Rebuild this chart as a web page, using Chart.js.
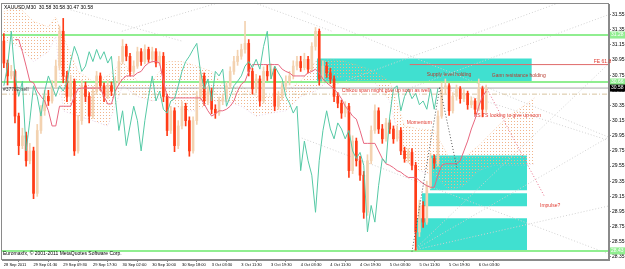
<!DOCTYPE html>
<html>
<head>
<meta charset="utf-8">
<script src="https://cdn.jsdelivr.net/npm/chart.js@4"></script>
<style>
  html, body { margin: 0; padding: 0; background: #fff; }
</style>
</head>
<body>
<canvas id="c" width="625" height="269"></canvas>
<script>
// XAUUSD M30 - ichimoku view, one candle per hour
const timeLabels = ["28 Sep 2011", "29 Sep 01:30", "29 Sep 09:30", "29 Sep 17:30", "30 Sep 02:00", "30 Sep 10:00",
  "30 Sep 18:00", "3 Oct 03:30", "3 Oct 11:30", "3 Oct 19:30", "4 Oct 03:30", "4 Oct 11:30", "4 Oct 19:30",
  "5 Oct 03:30", "5 Oct 11:30", "5 Oct 19:30", "6 Oct 03:30"];
const labelHours = [0, 8, 16, 24, 32, 40, 48, 56, 64, 72, 80, 88, 96, 104, 112, 120, 128];
const priceTicks = [28.35, 28.55, 28.75, 28.95, 29.15, 29.35, 29.55, 29.75, 29.95, 30.15, 30.35, 30.55,
  30.75, 30.95, 31.15, 31.35, 31.55];

const opens = [31.20,30.91,30.74,30.80,30.21,29.82,29.95,29.62,29.75,29.19, 30.02,30.28,30.47,30.41,30.61,30.87,31.33,30.74,30.47,30.67,
  29.75,30.15,30.61,30.47,30.21,30.54,30.74,30.61,30.47,30.61, 30.54,30.65,30.93,31.13,31.00,30.80,30.87,31.06,30.93,31.09,
  30.96,31.06,30.91,31.00,30.47,30.02,30.28,29.82,30.08,30.34, 30.15,29.75,30.15,30.47,30.74,30.41,30.54,30.30,30.25,30.41,
  30.44,30.61,30.80,30.93,31.00,31.09,31.17,30.80,30.57,30.70, 30.41,30.80,30.74,30.83,30.34,30.47,30.61,30.67,30.74,30.87,
  30.93,30.85,30.96,30.83,31.13,31.33,30.70,30.87,30.78,30.70, 30.47,30.38,30.25,30.34,29.49,29.88,29.62,29.43,28.94,29.62,
  30.02,30.28,30.04,29.91,30.12,30.04,29.91,30.02,29.75,29.65, 29.73,29.56,28.68,29.03,28.81,29.29,29.65,29.59,30.21,30.57,
  30.61,30.28,30.47,30.57,30.44,30.51,30.36,30.41,30.30,30.57, 30.30];
const highs = [31.30,30.95,30.88,30.82,30.25,30.05,30.00,29.85,29.80,30.10, 30.35,30.55,30.55,30.68,30.95,31.40,31.50,30.80,30.75,30.70,
  30.22,30.68,30.66,30.52,30.60,30.80,30.78,30.65,30.68,30.66, 30.72,31.00,31.22,31.16,31.04,30.94,31.12,31.10,31.15,31.12,
  31.12,31.10,31.06,31.05,30.50,30.34,30.32,30.15,30.40,30.38, 30.20,30.20,30.54,30.80,30.78,30.60,30.58,30.36,30.46,30.50,
  30.66,30.86,31.00,31.08,31.16,31.46,31.22,30.84,30.76,30.74, 30.86,30.88,30.90,30.86,30.54,30.66,30.74,30.80,30.94,31.00,
  31.00,31.04,31.00,31.18,31.38,31.36,30.94,30.92,30.84,30.74, 30.52,30.42,30.40,30.38,29.95,29.92,29.68,29.48,29.70,30.08,
  30.36,30.32,30.10,30.18,30.16,30.08,30.08,30.06,29.80,29.78, 29.78,29.60,29.10,29.08,29.35,29.72,29.70,30.28,30.65,30.70,
  30.64,30.52,30.62,30.60,30.56,30.54,30.46,30.44,30.70,30.60, 30.62];
const lows = [30.85,30.62,30.70,30.12,29.70,29.78,29.55,29.58,29.12,29.15, 29.98,30.22,30.35,30.38,30.58,30.82,30.65,30.40,30.42,29.69,
  29.72,30.10,30.40,30.12,30.18,30.50,30.55,30.40,30.44,30.48, 30.50,30.62,30.90,30.94,30.74,30.76,30.84,30.88,30.90,30.92,
  30.92,30.86,30.88,30.40,29.95,29.98,29.74,29.78,30.04,30.08, 29.68,29.72,30.10,30.42,30.35,30.36,30.24,30.18,30.22,30.36,
  30.40,30.58,30.76,30.88,30.96,31.04,30.74,30.50,30.52,30.34, 30.38,30.68,30.70,30.28,30.30,30.42,30.56,30.62,30.70,30.82,
  30.80,30.82,30.78,30.80,31.08,30.62,30.66,30.72,30.64,30.40, 30.32,30.18,30.20,29.40,29.45,29.55,29.36,28.86,28.90,29.58,
  29.98,29.98,29.85,29.88,29.98,29.85,29.88,29.70,29.60,29.60, 29.50,28.44,28.62,28.74,28.78,29.25,29.52,29.55,30.18,30.50,
  30.22,30.25,30.42,30.38,30.40,30.30,30.32,30.24,30.28,30.20, 30.26];
const closes = [30.91,30.74,30.80,30.21,29.82,29.95,29.62,29.75,29.19,30.02, 30.28,30.47,30.41,30.61,30.87,31.33,30.74,30.47,30.67,29.75,
  30.15,30.61,30.47,30.21,30.54,30.74,30.61,30.47,30.61,30.54, 30.65,30.93,31.13,31.00,30.80,30.87,31.06,30.93,31.09,30.96,
  31.06,30.91,31.00,30.47,30.02,30.28,29.82,30.08,30.34,30.15, 29.75,30.15,30.47,30.74,30.41,30.54,30.30,30.25,30.41,30.44,
  30.61,30.80,30.93,31.00,31.09,31.17,30.80,30.57,30.70,30.41, 30.80,30.74,30.83,30.34,30.47,30.61,30.67,30.74,30.87,30.93,
  30.85,30.96,30.83,31.13,31.33,30.70,30.87,30.78,30.70,30.47, 30.38,30.25,30.34,29.49,29.88,29.62,29.43,28.94,29.62,30.02,
  30.28,30.04,29.91,30.12,30.04,29.91,30.02,29.75,29.65,29.73, 29.56,28.68,29.03,28.81,29.29,29.65,29.59,30.21,30.57,30.61,
  30.28,30.47,30.57,30.44,30.51,30.36,30.41,30.30,30.57,30.30, 30.58];

// chikou span (teal), starts at the left edge
const chikou = [30.61,30.87,31.33,30.74,30.47,30.67,29.75,30.15,30.61,30.47, 30.21,30.54,30.74,30.61,30.47,30.61,30.54,30.65,30.93,31.13,
  31.00,30.80,30.87,31.06,30.93,31.09,30.96,31.06,30.91,31.00, 30.47,30.02,30.28,29.82,30.08,30.34,30.15,29.75,30.15,30.47,
  30.74,30.41,30.54,30.30,30.25,30.41,30.44,30.61,30.80,30.93, 31.00,31.09,31.17,30.80,30.57,30.70,30.41,30.80,30.74,30.83,
  30.34,30.47,30.61,30.67,30.74,30.87,30.93,30.85,30.96,30.83, 31.13,31.33,30.70,30.87,30.78,30.70,30.47,30.38,30.25,30.34,
  29.49,29.88,29.62,29.43,28.94,29.62,30.02,30.28,30.04,29.91, 30.12,30.04,29.91,30.02,29.75,29.65,29.73,29.56,28.68,29.03,
  28.81,29.29,29.65,29.59,30.21,30.57,30.61,30.28,30.47,30.57, 30.44,30.51,30.36,30.41,30.30,30.57,30.30,30.58];

// kijun / tenkan (pink)
const kijun = [null,null,null,31.22,31.22,31.06,30.87,30.67,30.65,30.54, 30.47,30.41,30.28,30.08,30.08,30.34,30.34,30.34,30.34,30.47,
  30.57,30.58,30.58,30.58,30.58,30.58,30.58,30.47,30.37,30.37, 30.54,30.63,30.70,30.74,30.74,30.74,30.78,30.80,30.87,30.91,
  30.93,30.93,30.91,30.67,30.47,30.45,30.45,30.45,30.45,30.45, 30.45,30.45,30.45,30.45,30.37,30.28,30.21,30.24,30.28,30.28,
  30.30,30.34,30.41,30.54,30.63,30.67,30.80,30.89,30.89,30.89, 30.89,30.89,30.89,30.89,30.89,30.83,30.80,30.78,30.74,30.74,
  30.74,30.74,30.78,30.80,30.83,30.78,30.70,30.65,30.61,30.57, 30.51,30.44,30.34,30.28,30.21,30.17,30.02,29.85,29.85,29.85,
  29.85,29.75,29.65,29.58,29.56,29.53,29.49,29.47,29.43,29.40, 29.40,29.40,29.36,29.32,29.29,29.27,29.27,29.43,29.56,29.58,
  29.58,29.58,29.58,29.62,29.75,29.88,30.04,30.17,30.34,30.47, 30.54];

// cloud (senkou span A / B)
const cloudHours = [0,4,8,12,14,16,20,24,28,32,36,40,44,48,52,56,60,64,68,72,76,80,84,88,92,96,100,104,108,112,116,120,124,128,132,136,140,143];
const spanA = [31.59,31.65,31.46,31.39,31.52,31.26,30.80,30.67,30.74,30.93,30.67,30.67,30.93,30.93,30.87,30.80,30.57,30.61,30.47,
  30.47,30.54,30.67,30.93,30.96,30.93,30.87,30.80,30.67,30.08,30.04,30.02,29.66,29.66,29.82,30.02,30.21,30.34,30.45];
const spanB = [31.20,31.13,30.93,31.06,31.26,30.28,30.21,30.15,30.08,30.61,30.47,30.41,30.47,30.28,30.28,30.41,30.41,30.34,30.21,
  30.25,30.28,30.47,30.54,30.70,30.74,30.67,30.65,30.41,29.62,29.49,29.43,29.23,29.29,29.49,29.56,29.56,29.56,29.58];

// horizontal levels
const greenLevels = [31.28, 30.66, 28.43];
const bidPrice = 30.58;
const askPrice = 30.50;
const fibLevel = 30.89;

// supply / demand boxes: [from hour, to hour, top, bottom]
const zones = [[84.4, 142.3, 30.97, 30.66], [114.8, 141, 29.69, 29.23], [112.7, 141, 29.19, 29.02], [110.8, 141, 28.86, 28.44]];

// trend / gann lines: [h1, p1, h2, p2]
const gannLines = [[110.5, 28.44, 163.6, 29.03], [110.5, 28.44, 163.6, 29.95], [110.5, 28.44, 163.6, 30.93],
  [80.3, 29.92, 163.6, 28.38], [118.1, 30.59, 163.6, 29.88], [80.3, 31.59, 163.6, 29.92], [110, 30.59, 163.6, 31.56],
  [88.4, 30.61, 150.4, 31.72], [10.2, 31.72, 48, 31.20], [31.8, 31.33, 58.8, 31.72], [66.8, 31.72, 88.4, 31.33]];
const momentumLines = [[110, 28.42, 117.5, 30.59], [117.5, 30.59, 122.1, 29.53]];
const impulseLines = [[130.2, 30.57, 145.8, 29.14]];

const notes = [
  ["Supply level holding", 114, 30.76, "#b83a2e"],
  ["Gann resistance holding", 131.5, 30.74, "#b83a2e"],
  ["Chikou span might give up soon as well", 91.1, 30.54, "#e03a30"],
  ["Momentum", 108.6, 30.12, "#e03a30"],
  ["KS TS looking to give up soon", 126.7, 30.21, "#e03a30"],
  ["Impulse?", 144.5, 29.03, "#e03a30"],
  ["FE 61.8", 159, 30.925, "#e03a30"]
];

const X_MIN = -0.5, X_MAX = 163.1;
const canvas = document.getElementById("c");
const ctx = canvas.getContext("2d");

function dots(color) {
  const tile = document.createElement("canvas");
  tile.width = 3; tile.height = 3;
  const t = tile.getContext("2d");
  t.fillStyle = color;
  t.fillRect(1, 1, 1, 1);
  return ctx.createPattern(tile, "repeat");
}

const hours = closes.map((_, i) => i);
const candleColor = hours.map((i) => (closes[i] >= opens[i] ? "#f3d2b0" : "#ff3c17"));

const seg = (s, color, dash, order) => ({
  type: "line",
  data: [{ x: s[0], y: s[1] }, { x: s[2], y: s[3] }],
  borderColor: color, borderWidth: 1, borderDash: dash,
  pointRadius: 0, fill: false, order: order,
});
const hline = (p, color, dash, order) => seg([X_MIN, p, X_MAX, p], color, dash, order);

const datasets = [];
zones.forEach((z) => {
  datasets.push({
    type: "line",
    data: [{ x: z[0], y: z[2] }, { x: z[1], y: z[2] }],
    borderWidth: 0, pointRadius: 0,
    backgroundColor: "#40e0d0",
    fill: { value: z[3] },
    order: 20,
  });
});
datasets.push({
  type: "line",
  data: cloudHours.map((h, i) => ({ x: h, y: spanA[i] })),
  borderColor: "rgba(244,180,130,0.5)", borderWidth: 1, borderDash: [1, 2],
  pointRadius: 0,
  fill: { target: "+1", above: dots("#f0b48a"), below: dots("#d8b0d8") },
  order: 15,
});
datasets.push({
  type: "line",
  data: cloudHours.map((h, i) => ({ x: h, y: spanB[i] })),
  borderColor: "rgba(216,176,216,0.5)", borderWidth: 1, borderDash: [1, 2],
  pointRadius: 0, fill: false, order: 15,
});
gannLines.forEach((g) => datasets.push(seg(g, "#d2d2d2", [1, 2], 12)));
greenLevels.forEach((p) => {
  const d = hline(p, "#90ee90", [], 11);
  d.borderWidth = 2;
  datasets.push(d);
});
datasets.push(hline(bidPrice, "#a8a8a8", [], 11));
datasets.push(hline(askPrice, "#d8c4a0", [5, 2, 1, 2], 11));
datasets.push(seg([109.4, fibLevel, X_MAX, fibLevel], "#e06a6a", [], 10));
datasets.push({
  type: "bar",
  data: hours.map((i) => ({ x: i, y: [lows[i], highs[i]] })),
  backgroundColor: candleColor, barThickness: 1, grouped: false, order: 6,
});
datasets.push({
  type: "bar",
  data: hours.map((i) => ({ x: i, y: [opens[i], closes[i]] })),
  backgroundColor: candleColor, barThickness: 2, grouped: false, order: 5,
});
datasets.push({
  type: "line",
  data: kijun.map((v, i) => ({ x: i, y: v })),
  borderColor: "#e8677f", borderWidth: 1, pointRadius: 0, fill: false, spanGaps: false, order: 4,
});
datasets.push({
  type: "line",
  data: chikou.map((v, i) => ({ x: i, y: v })),
  borderColor: "#55c9a5", borderWidth: 1, pointRadius: 0, fill: false, order: 3,
});
momentumLines.forEach((m) => datasets.push(seg(m, "#555555", [1, 2], 2)));
impulseLines.forEach((m) => datasets.push(seg(m, "#e8708a", [1, 2], 2)));

const overlay = {
  id: "overlay",
  afterDraw(chart) {
    const { ctx, chartArea: a, scales } = chart;
    const xs = scales.x, ys = scales.y;
    ctx.save();
    ctx.strokeStyle = "#8a8a8a";
    ctx.lineWidth = 1;
    ctx.strokeRect(a.left - 0.5, a.top - 0.5, a.right - a.left, a.bottom - a.top);

    ctx.font = "5px 'Liberation Sans'";
    ctx.textBaseline = "middle";
    ctx.textAlign = "left";
    notes.forEach((n) => {
      ctx.fillStyle = n[3];
      ctx.fillText(n[0], xs.getPixelForValue(n[1]), ys.getPixelForValue(n[2]));
    });

    ctx.fillStyle = "#000";
    ctx.fillText("XAUUSD,M30  30.58 30.58 30.47 30.58", a.left + 2, a.top + 4);
    ctx.fillText("Euromaxfx, \u00a9 2001-2011 MetaQuotes Software Corp.", a.left + 1, a.bottom - 6);
    ctx.fillStyle = "#444";
    ctx.fillText("#37782 sell", a.left + 1, ys.getPixelForValue(bidPrice) + 2);

    // price tags on the right axis
    const tag = (p, bg, fg) => {
      const y = ys.getPixelForValue(p);
      ctx.fillStyle = bg;
      ctx.fillRect(a.right + 1, y - 3.5, 15, 7);
      ctx.fillStyle = fg;
      ctx.fillText(p.toFixed(2), a.right + 2, y);
    };
    greenLevels.forEach((p) => tag(p, "#90ee90", "#ffffff"));
    tag(bidPrice, "#000000", "#ffffff");
    ctx.restore();
  },
};

new Chart(canvas, {
  type: "bar",
  data: { datasets: datasets },
  options: {
    responsive: false,
    animation: false,
    events: [],
    layout: { padding: { left: 2, top: 2, right: 0, bottom: 0 } },
    plugins: { legend: { display: false }, tooltip: { enabled: false } },
    scales: {
      x: {
        type: "linear",
        min: X_MIN,
        max: X_MAX,
        offset: false,
        afterBuildTicks: (s) => { s.ticks = labelHours.map((v) => ({ value: v })); },
        afterFit: (s) => { s.height = 9; },
        ticks: {
          autoSkip: false, maxRotation: 0, align: "start", padding: 0,
          font: { family: "Liberation Sans", size: 4 }, color: "#000",
          callback: (v) => timeLabels[labelHours.indexOf(v)],
        },
        grid: { drawOnChartArea: false, tickLength: 2, color: "#8a8a8a" },
        border: { color: "#8a8a8a" },
      },
      y: {
        position: "right",
        min: 28.31,
        max: 31.69,
        afterBuildTicks: (s) => { s.ticks = priceTicks.map((v) => ({ value: v })); },
        afterFit: (s) => { s.width = 16; },
        ticks: {
          padding: 1,
          font: { family: "Liberation Sans", size: 5 }, color: "#000",
          callback: (v) => v.toFixed(2),
        },
        grid: { drawOnChartArea: false, tickLength: 2, color: "#8a8a8a" },
        border: { color: "#8a8a8a" },
      },
    },
  },
  plugins: [overlay],
});
</script>
</body>
</html>
